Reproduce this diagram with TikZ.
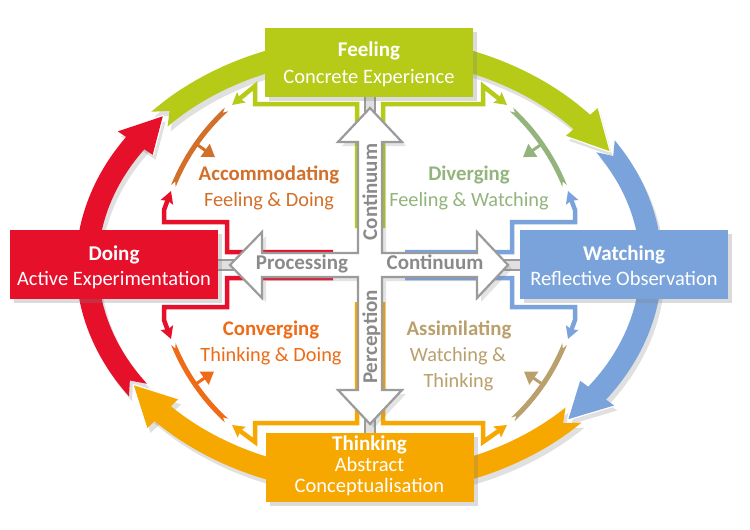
\documentclass[tikz,border=0pt]{standalone}
\usepackage{fontspec}
\setmainfont{Carlito}
\usetikzlibrary{arrows.meta,shadows}
\definecolor{cGreen}{HTML}{B5CB17}
\definecolor{cRed}{HTML}{E6102B}
\definecolor{cBlue}{HTML}{7BA3DB}
\definecolor{cOrange}{HTML}{F7A800}
\definecolor{cAcc}{HTML}{D2702A}
\definecolor{cDiv}{HTML}{93B47C}
\definecolor{cCon}{HTML}{EE6B18}
\definecolor{cAss}{HTML}{B9A06C}
\definecolor{cGray}{HTML}{9B9B9B}
\definecolor{cGrayText}{HTML}{8A8A8A}
\newcommand{\ep}[2]{({369+(282+(#2))*cos(#1)},{265-(218+(#2))*sin(#1)})}
\newcommand{\ip}[2]{({369+(#2)*cos(#1)},{265-(#2)*sin(#1)})}
\newcommand{\obody}[3]{plot[domain=#1:#2,samples=60,variable=\ang]({369+293*cos(\ang)},{265-229*sin(\ang)}) -- plot[domain=#2:#1,samples=60,variable=\ang]({369+271*cos(\ang)},{265-207*sin(\ang)}) -- \ep{#1-#3}{0} -- cycle}
\newcommand{\ohead}[2]{\ep{#1}{21} -- \ep{#2}{0} -- \ep{#1}{-21}}
% notched inner arc band between angles #1 < #2
\newcommand{\iband}[2]{plot[domain=#1:#2,samples=30,variable=\ang]({369+213.5*cos(\ang)},{265-213.5*sin(\ang)}) -- \ip{#2-1.3}{211} -- plot[domain=#2:#1,samples=30,variable=\ang]({369+208.5*cos(\ang)},{265-208.5*sin(\ang)}) -- \ip{#1+1.3}{211} -- cycle}
\begin{document}
\begin{tikzpicture}[x=1pt,y=-1pt,
  boxnode/.style={rectangle, inner sep=0pt, minimum width=208pt, minimum height=69pt,
    drop shadow={opacity=0.28, shadow xshift=4pt, shadow yshift=-4pt}},
  boxtitle/.style={anchor=base, text=white, font=\bfseries\fontsize{21}{25}\selectfont, inner sep=0pt},
  boxsub/.style={anchor=base, text=white, font=\fontsize{20.5}{25}\selectfont, inner sep=0pt},
  qtitle/.style={anchor=base, font=\bfseries\fontsize{20.8}{25}\selectfont, inner sep=0pt},
  qsub/.style={anchor=base, font=\fontsize{20.3}{25}\selectfont, inner sep=0pt},
  axislabel/.style={anchor=base, text=cGrayText, font=\bfseries\fontsize{21}{24}\selectfont, inner sep=0pt},
  conn/.style={line width=4.5pt, -{Stealth[length=12pt,width=13pt,inset=2pt]}},
  barb/.style={line width=3pt, -{Triangle[length=12pt,width=15pt]}},
  halo/.style={white, line width=2.5pt, line join=round},
  stem/.style={fill=black!12, draw=cGray, line width=1.4pt},
]
\useasboundingbox[fill=white] (0,0) rectangle (750,530);

% ---------- outer cycle arrows ----------
\begin{scope}[shift={(3,5)}, opacity=0.12]
  \fill[black] \obody{138}{40}{3};
  \fill[black] \obody{33}{-37}{3};
  \fill[black] \obody{-43.5}{-138}{3};
  \fill[black] \obody{215}{145}{3};
  \fill[black] \ohead{41}{31.5} -- cycle;
  \fill[black] \ohead{-36}{-45} -- cycle;
  \fill[black] \ohead{-137}{-146.5} -- cycle;
  \fill[black] \ohead{146}{137} -- cycle;
\end{scope}
\fill[cGreen] \obody{138}{40}{3};
\fill[cBlue] \obody{33}{-37}{3};
\fill[cOrange] \obody{-43.5}{-138}{3};
\fill[cRed] \obody{215}{145}{3};
\draw[halo] \ohead{41}{31.5};
\fill[cGreen] \ohead{41}{31.5} -- cycle;
\draw[halo] \ohead{-36}{-45};
\fill[cBlue] \ohead{-36}{-45} -- cycle;
\draw[halo] \ohead{-137}{-146.5};
\fill[cOrange] \ohead{-137}{-146.5} -- cycle;
\draw[halo] \ohead{146}{137};
\fill[cRed] \ohead{146}{137} -- cycle;

% ---------- inner arcs ----------
\fill[cAcc] \iband{132.5}{158};
\fill[cDiv] \iband{22}{47.5};
\fill[cCon] \iband{202}{227.5};
\fill[cAss] \iband{-47}{-22};
\draw[cAcc, barb] \ip{145}{211} -- \ip{145}{188};
\draw[cDiv, barb] \ip{35}{211} -- \ip{35}{188};
\draw[cCon, barb] \ip{214.5}{211} -- \ip{214.5}{188};
\draw[cAss, barb] \ip{-34.5}{211} -- \ip{-34.5}{188};

% ---------- connectors from boxes ----------
\draw[cGreen, conn] (357,228) -- (357,104) -- (255,104) -- (255,86) -- (232,105);
\draw[cGreen, conn] (383,228) -- (383,104) -- (483,104) -- (483,86) -- (507,105);
\draw[cBlue, conn] (405,252) -- (512,252) -- (512,222) -- (575,222) -- (575,210) -- (568,191);
\draw[cBlue, conn] (405,278) -- (512,278) -- (512,307) -- (575,307) -- (575,320) -- (568,339);
\draw[cRed, conn] (333,252) -- (227,252) -- (227,222) -- (164,222) -- (164,210) -- (171,191);
\draw[cRed, conn] (333,278) -- (227,278) -- (227,307) -- (164,307) -- (164,320) -- (171,339);
\draw[cOrange, conn] (357,302) -- (357,423) -- (255,423) -- (255,442) -- (232,425);
\draw[cOrange, conn] (383,302) -- (383,423) -- (483,423) -- (483,442) -- (507,425);

% ---------- axis cross ----------
\filldraw[stem] (365,95) rectangle (375,112);
\filldraw[stem] (365,420) rectangle (375,436);
\filldraw[stem] (215,260) rectangle (234,270);
\filldraw[stem] (504,260) rectangle (523,270);
\draw[fill=white, draw=cGray, line width=2.2pt, line join=miter,
  drop shadow={opacity=0.22, shadow xshift=4pt, shadow yshift=-4pt}]
  (370,108) -- (402,142) -- (382,142) -- (382,253) -- (477,253) -- (477,232) -- (508,265)
  -- (477,298) -- (477,277) -- (382,277) -- (382,390) -- (402,390) -- (370,424)
  -- (338,390) -- (358,390) -- (358,277) -- (262,277) -- (262,298) -- (230,265)
  -- (262,232) -- (262,253) -- (358,253) -- (358,142) -- (338,142) -- cycle;
\node[axislabel] (proc) at (302,269.5) {Processing};
\node[axislabel] (contr) at (435,269.5) {Continuum};
\node[axislabel, rotate=90] (contu) at (377,192) {Continuum};
\node[axislabel, rotate=90] (perc) at (377,337) {Perception};

% ---------- boxes ----------
\node[boxnode, fill=cGreen] (feeling) at (369,62.5) {};
\node[boxnode, fill=cRed] (doing) at (114,264.5) {};
\node[boxnode, fill=cBlue] (watching) at (624,264.5) {};
\node[boxnode, fill=cOrange] (thinking) at (369.5,467) {};
\node[boxtitle] (feelingT) at (369,56) {Feeling};
\node[boxsub] (feelingS) at (369,83) {Concrete Experience};
\node[boxtitle] (doingT) at (114,260) {Doing};
\node[boxsub] (doingS) at (114,285) {Active Experimentation};
\node[boxtitle] (watchingT) at (624,260) {Watching};
\node[boxsub] (watchingS) at (624,285.5) {Reflective Observation};
\node[boxtitle] (thinkingT) at (369.5,450) {Thinking};
\node[boxsub] (thinkingS1) at (369.5,471) {Abstract};
\node[boxsub] (thinkingS2) at (369.5,492) {Conceptualisation};

% ---------- quadrant labels ----------
\node[qtitle, text=cAcc] (accT) at (269,180) {Accommodating};
\node[qsub, text=cAcc] (accS) at (269,206) {Feeling \& Doing};
\node[qtitle, text=cDiv] (divT) at (469,180) {Diverging};
\node[qsub, text=cDiv] (divS) at (469,206) {Feeling \& Watching};
\node[qtitle, text=cCon] (conT) at (271,335) {Converging};
\node[qsub, text=cCon] (conS) at (271,361.5) {Thinking \& Doing};
\node[qtitle, text=cAss] (assT) at (459,335) {Assimilating};
\node[qsub, text=cAss] (assS1) at (458,361.5) {Watching \&};
\node[qsub, text=cAss] (assS2) at (458.5,387) {Thinking};
\end{tikzpicture}
\end{document}
